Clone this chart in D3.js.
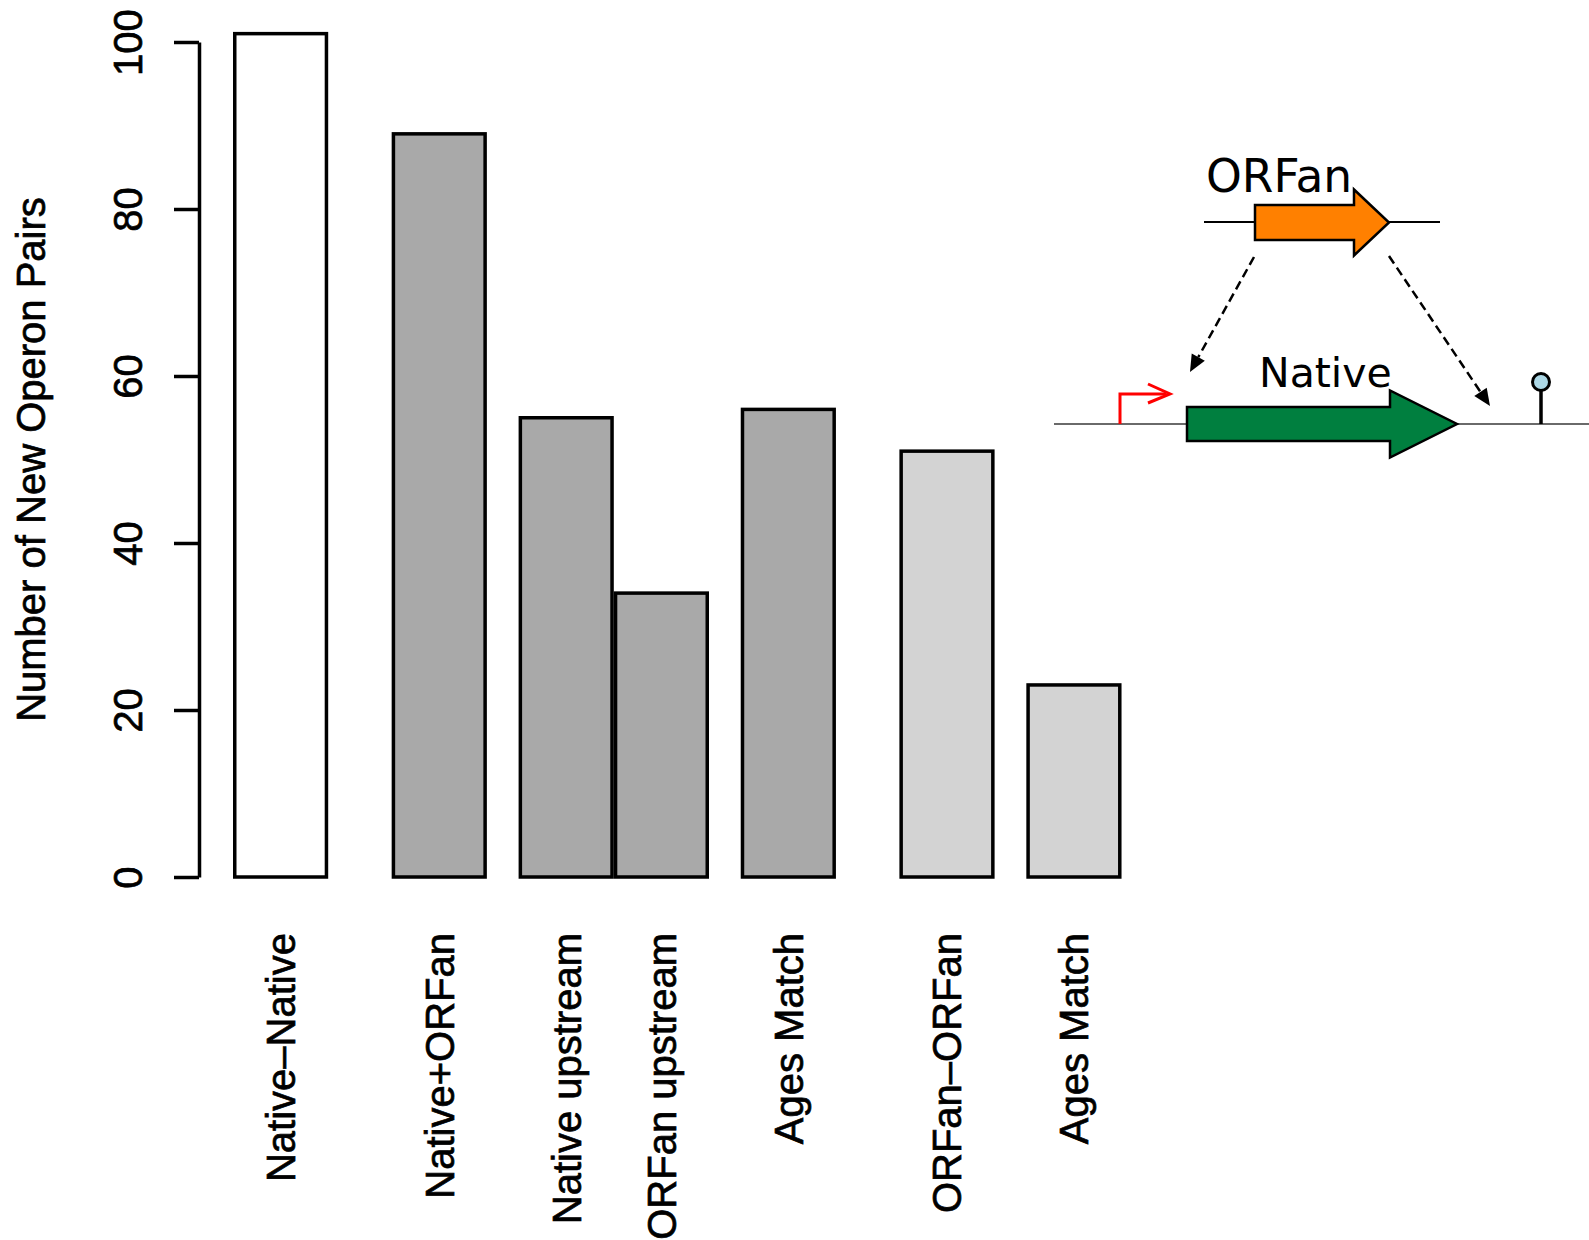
<!DOCTYPE html>
<html>
<head>
<meta charset="utf-8">
<script src="https://cdn.jsdelivr.net/npm/d3@7"></script>
<style>
  html, body { margin: 0; padding: 0; background: #ffffff; }
  svg { display: block; }
</style>
</head>
<body>
<script>
// Operon pair counts by category
const categories = ["Native\u2013Native", "Native+ORFan", "Native upstream", "ORFan upstream", "Ages Match", "ORFan\u2013ORFan", "Ages Match"];
const values = [101, 89, 55, 34, 56, 51, 23];
// pair class of each bar: 0 = native-native, 1 = native+ORFan, 2 = ORFan-ORFan
const pairClass = [0, 1, 1, 1, 1, 2, 2];
// space (in bar widths) left before each bar
const spaceBefore = [0, 2 / 3, 1 / 3, 0, 1 / 3, 2 / 3, 1 / 3];
const yTicks = [0, 20, 40, 60, 80, 100];
const yTitle = "Number of New Operon Pairs";

const W = 1589, H = 1240;
const svg = d3.select("body").append("svg").attr("width", W).attr("height", H);

const sansR = "'Liberation Sans', Arial, Helvetica, sans-serif";
const labelSize = 40;
const textHeavy = 0.7; // thin outline to thicken glyph stems

// bar slot positions in bar-width units
const lefts = [];
let acc = 0;
values.forEach((v, i) => { acc += spaceBefore[i]; lefts.push(acc); acc += 1; });

const x = d3.scaleLinear().domain([0, acc]).range([233, 233 + acc * 95.2]);
const y = d3.scaleLinear().domain([0, 100]).range([877, 42]);
const fill = d3.scaleOrdinal().domain([0, 1, 2]).range(["#ffffff", "#a9a9a9", "#d3d3d3"]);

// bars
svg.append("g").selectAll("rect").data(values).join("rect")
  .attr("x", (d, i) => x(lefts[i]) + 1.75)
  .attr("width", (d, i) => x(lefts[i] + 1) - x(lefts[i]) - 3.5)
  .attr("y", d => y(d))
  .attr("height", d => y(0) - y(d))
  .attr("fill", (d, i) => fill(pairClass[i]))
  .attr("stroke", "#000")
  .attr("stroke-width", 3.5);

// y axis
const axisX = 199;
const gy = svg.append("g").attr("transform", `translate(${axisX},0)`)
  .call(d3.axisLeft(y).tickValues(yTicks).tickSize(25).tickSizeOuter(0).tickFormat(d3.format("d")));
gy.select(".domain").attr("stroke", "#000").attr("stroke-width", 3.5);
gy.selectAll(".tick line").attr("stroke", "#000").attr("stroke-width", 3.5);
gy.selectAll(".tick text")
  .attr("x", null).attr("dy", null).attr("y", 0)
  .attr("transform", `translate(${141.5 - axisX},0) rotate(-90)`)
  .attr("text-anchor", "middle")
  .attr("fill", "#000")
  .attr("stroke", "#000").attr("stroke-width", textHeavy)
  .style("font-family", sansR)
  .style("font-size", labelSize + "px");

// y axis title
svg.append("text")
  .attr("transform", `translate(45,${(y(0) + y(100)) / 2}) rotate(-90)`)
  .attr("text-anchor", "middle")
  .attr("stroke", "#000").attr("stroke-width", textHeavy)
  .style("font-family", sansR)
  .style("font-size", labelSize + "px")
  .text(yTitle);

// category labels, rotated
svg.append("g").selectAll("text").data(categories).join("text")
  .attr("transform", (d, i) => `translate(${(x(lefts[i]) + x(lefts[i] + 1)) / 2 + 0.36 * labelSize},933) rotate(-90)`)
  .attr("text-anchor", "end")
  .attr("stroke", "#000").attr("stroke-width", textHeavy)
  .style("font-family", sansR)
  .style("font-size", labelSize + "px")
  .text(d => d);

// operon diagram: ORFan inserted next to a native gene
const dg = svg.append("g");
const diagFont = "'DejaVu Sans', Verdana, sans-serif";

function arrowGene(x0, x1, xTip, yc, bodyHalf, headHalf) {
  return `M${x0},${yc - bodyHalf}H${x1}V${yc - headHalf}L${xTip},${yc}L${x1},${yc + headHalf}V${yc + bodyHalf}H${x0}Z`;
}

// ORFan strand
dg.append("line").attr("x1", 1204).attr("x2", 1440).attr("y1", 222).attr("y2", 222)
  .attr("stroke", "#000").attr("stroke-width", 2);
dg.append("path").attr("d", arrowGene(1255, 1354, 1389, 222.5, 17.5, 33))
  .attr("fill", "#ff8000").attr("stroke", "#000").attr("stroke-width", 2.5);
dg.append("text").attr("x", 1206).attr("y", 192).style("font-family", diagFont)
  .style("font-size", "45.5px").text("ORFan");

// native strand
dg.append("line").attr("x1", 1054).attr("x2", 1589).attr("y1", 424).attr("y2", 424)
  .attr("stroke", "#6a6a6a").attr("stroke-width", 2);
dg.append("path").attr("d", arrowGene(1187, 1390, 1457, 424, 17, 33.5))
  .attr("fill", "#007f3f").attr("stroke", "#000").attr("stroke-width", 2.5);
dg.append("text").attr("x", 1259).attr("y", 387).style("font-family", diagFont)
  .style("font-size", "41px").text("Native");

// promoter
dg.append("path").attr("d", "M1120,424V394H1166")
  .attr("fill", "none").attr("stroke", "#ff0000").attr("stroke-width", 3);
dg.append("path").attr("d", "M1148,384L1170,394L1148,403")
  .attr("fill", "none").attr("stroke", "#ff0000").attr("stroke-width", 3);

// terminator
dg.append("line").attr("x1", 1541).attr("x2", 1541).attr("y1", 424).attr("y2", 390)
  .attr("stroke", "#000").attr("stroke-width", 3.5);
dg.append("circle").attr("cx", 1541).attr("cy", 382).attr("r", 8.5)
  .attr("fill", "#add8e6").attr("stroke", "#000").attr("stroke-width", 3);

// dashed insertion arrows
function dashedArrow(x0, y0, x1, y1) {
  const a = Math.atan2(y1 - y0, x1 - x0), len = 17, half = 7.5;
  const bx = x1 - len * Math.cos(a), by = y1 - len * Math.sin(a);
  dg.append("line").attr("x1", x0).attr("y1", y0).attr("x2", bx).attr("y2", by)
    .attr("stroke", "#000").attr("stroke-width", 2.5).attr("stroke-dasharray", "9,5");
  const px = -Math.sin(a) * half, py = Math.cos(a) * half;
  dg.append("path").attr("d", `M${x1},${y1}L${bx + px},${by + py}L${bx - px},${by - py}Z`)
    .attr("fill", "#000");
}
dashedArrow(1254, 257, 1190, 372);
dashedArrow(1389, 256, 1490, 406);
</script>
</body>
</html>
